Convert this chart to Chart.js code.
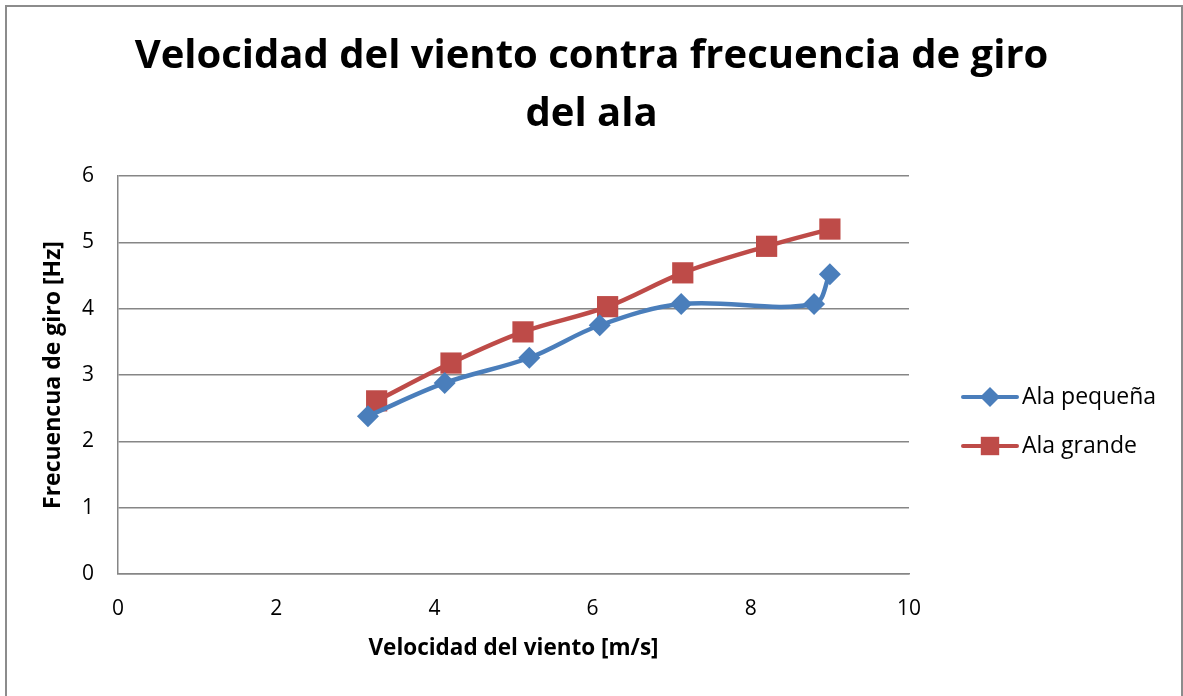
<!DOCTYPE html>
<html>
<head>
<meta charset="utf-8">
<script src="https://cdn.jsdelivr.net/npm/chart.js@4/dist/chart.umd.min.js"></script>
<style>
  html, body { margin: 0; padding: 0; background: #fff; }
  #wrap { width: 1183px; height: 696px; position: relative; }
</style>
</head>
<body>
<div id="wrap"><canvas id="windChart" width="1183" height="696"></canvas></div>
<script>
// velocidad del viento [m/s] y frecuencia de giro [Hz]
var speedSmall = [3.16, 4.13, 5.20, 6.09, 7.12, 8.80, 9.00];
var freqSmall  = [2.38, 2.88, 3.26, 3.75, 4.07, 4.07, 4.52];
var speedLarge = [3.27, 4.21, 5.12, 6.19, 7.14, 8.20, 9.00];
var freqLarge  = [2.61, 3.18, 3.65, 4.03, 4.54, 4.94, 5.20];
var seriesNames = ['Ala pequeña', 'Ala grande'];

function toPoints(xs, ys) {
  return xs.map(function (x, i) { return { x: x, y: ys[i] }; });
}

var fontFamily = "'Open Sans', 'Liberation Sans', sans-serif";
var gridColor = '#868686';

// marco exterior del gráfico
var framePlugin = {
  id: 'frame',
  beforeDraw: function (chart) {
    var c = chart.ctx;
    c.save();
    c.fillStyle = '#fff';
    c.fillRect(0, 0, chart.width, chart.height);
    c.strokeStyle = '#8c8c8c';
    c.lineWidth = 2;
    c.strokeRect(6, 6, chart.width - 7, chart.height + 10);
    c.restore();
  }
};

// leyenda al estilo Excel: línea + marcador
var legendPlugin = {
  id: 'sideLegend',
  afterDraw: function (chart) {
    var c = chart.ctx;
    var x0 = 963, x1 = 1017, tx = 1022;
    var ys = [397, 446];
    c.save();
    chart.data.datasets.forEach(function (ds, i) {
      var y = ys[i];
      c.strokeStyle = ds.borderColor;
      c.lineWidth = 4;
      c.lineCap = 'round';
      c.beginPath();
      c.moveTo(x0, y);
      c.lineTo(x1, y);
      c.stroke();
      c.fillStyle = ds.pointBackgroundColor;
      Chart.helpers.drawPoint(c, {
        pointStyle: ds.pointStyle,
        radius: ds.pointStyle === 'rect' ? 13 : 10,
        rotation: 0,
        borderWidth: 0
      }, (x0 + x1) / 2, y);
      c.fillStyle = '#000';
      c.font = '23px ' + fontFamily;
      c.textBaseline = 'middle';
      c.textAlign = 'left';
      c.fillText(ds.label, tx, y);
    });
    c.restore();
  }
};

var ctx = document.getElementById('windChart');
var windChart = new Chart(ctx, {
  type: 'line',
  data: {
    datasets: [
      {
        label: seriesNames[0],
        data: toPoints(speedSmall, freqSmall),
        borderColor: '#4a7ebb',
        backgroundColor: '#4a7ebb',
        pointBackgroundColor: '#4a7ebb',
        pointBorderWidth: 0,
        pointStyle: 'rectRot',
        pointRadius: 11,
        borderWidth: 4.5,
        tension: 0.35
      },
      {
        label: seriesNames[1],
        data: toPoints(speedLarge, freqLarge),
        borderColor: '#be4b48',
        backgroundColor: '#be4b48',
        pointBackgroundColor: '#be4b48',
        pointBorderWidth: 0,
        pointStyle: 'rect',
        pointRadius: 15,
        borderWidth: 4.5,
        tension: 0.35
      }
    ]
  },
  plugins: [framePlugin, legendPlugin],
  options: {
    responsive: false,
    animation: false,
    layout: { padding: 0 },
    plugins: {
      legend: { display: false },
      tooltip: { enabled: false },
      title: {
        display: true,
        text: ['Velocidad del viento contra frecuencia de giro', 'del ala'],
        color: '#000',
        font: { family: fontFamily, size: 40, weight: 'bold', lineHeight: 1.45 },
        padding: { top: 28, bottom: 32 }
      }
    },
    scales: {
      x: {
        type: 'linear',
        min: 0,
        max: 10,
        ticks: { stepSize: 2, color: '#000', font: { family: fontFamily, size: 21 }, padding: 22 },
        grid: { display: false, drawTicks: false },
        border: { display: true, color: gridColor, width: 1.5 },
        title: {
          display: true,
          text: 'Velocidad del viento [m/s]',
          color: '#000',
          font: { family: fontFamily, size: 22.5, weight: 'bold' },
          padding: { top: 0, bottom: 34 }
        },
        afterFit: function (scale) { scale.height = 122; }
      },
      y: {
        type: 'linear',
        min: 0,
        max: 6,
        ticks: { stepSize: 1, color: '#000', font: { family: fontFamily, size: 21 }, padding: 24 },
        grid: { color: gridColor, lineWidth: 1.5, drawTicks: false },
        border: { display: true, color: gridColor, width: 1.5 },
        title: {
          display: true,
          text: 'Frecuencua de giro [Hz]',
          color: '#000',
          font: { family: fontFamily, size: 23, weight: 'bold' },
          padding: { top: 40, bottom: 0 }
        },
        afterFit: function (scale) { scale.width = 118; }
      },
      // eje vacío a la derecha: deja sitio para la leyenda
      side: {
        type: 'linear',
        position: 'right',
        display: true,
        ticks: { display: false },
        grid: { display: false, drawTicks: false },
        border: { display: false },
        afterFit: function (scale) { scale.width = 274; }
      }
    }
  }
});
</script>
</body>
</html>
